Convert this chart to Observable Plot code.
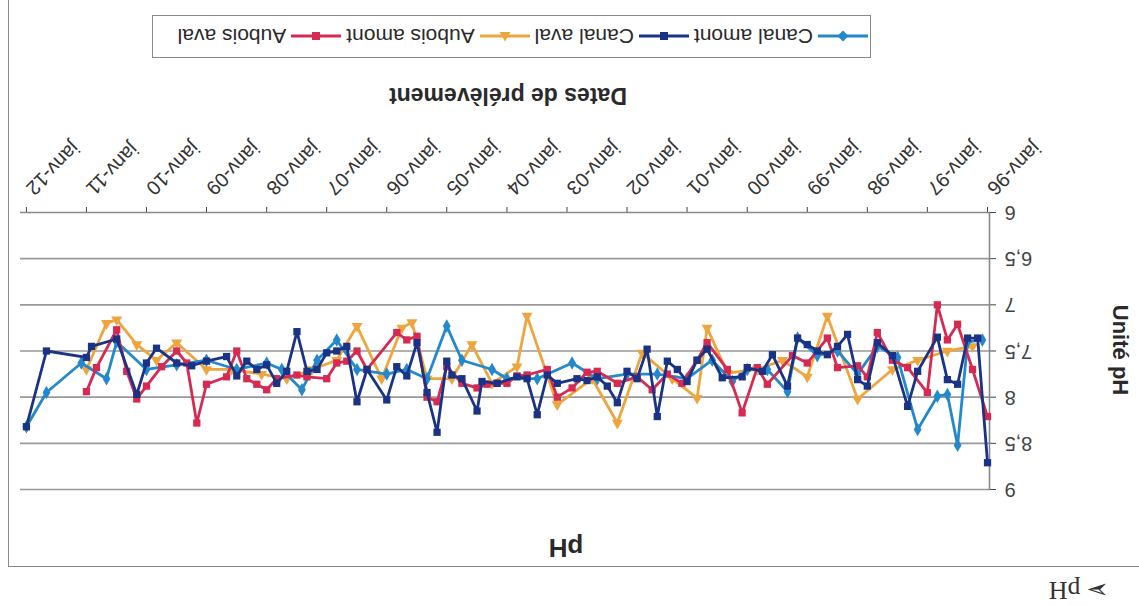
<!DOCTYPE html>
<html>
<head>
<meta charset="utf-8">
<script src="https://cdn.jsdelivr.net/npm/d3@7"></script>
<script src="https://cdn.jsdelivr.net/npm/@observablehq/plot@0.6"></script>
<style>
html,body{margin:0;padding:0;background:#fff;overflow:hidden;}
#page{position:relative;width:1139px;height:606px;transform:rotate(180deg);transform-origin:50% 50%;
  font-family:"Liberation Sans",Arial,sans-serif;color:#2a2a2a;background:#fff;overflow:hidden;}
#frame{position:absolute;left:-10px;top:39px;width:1141px;height:620px;border:1.5px solid #8a8a8a;box-sizing:border-box;}
#heading{position:absolute;left:30px;top:3px;height:26px;white-space:nowrap;color:#333;display:flex;align-items:center;}
#heading .arr{font-family:"DejaVu Sans";font-size:27px;display:inline-block;height:24px;line-height:24px;margin-right:6px;}
#heading .ph{font-family:"Liberation Serif",serif;font-size:26px;display:inline-block;height:26px;line-height:26px;}
#title{position:absolute;left:473px;width:200px;top:43px;text-align:center;font-weight:bold;font-size:26px;}
#chart{position:absolute;left:0;top:0;}
#ylabel{position:absolute;left:19px;top:256px;transform:translate(-50%,-50%) rotate(-90deg);font-weight:bold;font-size:22px;white-space:nowrap;}
#xlabel{position:absolute;left:631px;top:511px;transform:translate(-50%,-50%);font-weight:bold;font-size:23px;white-space:nowrap;}
#legend{position:absolute;left:268px;top:548px;width:719px;height:43px;border:1.5px solid #8a8a8a;box-sizing:border-box;
  display:flex;align-items:center;padding-left:2px;font-size:21px;white-space:nowrap;}
#legend .item{display:flex;align-items:center;margin-right:5px;}
#legend .item svg{margin-right:5px;}
</style>
</head>
<body>
<div id="page">
  <div id="frame"></div>
  <div id="heading"><span class="arr">➢</span><span class="ph">pH</span></div>
  <div id="title">pH</div>
  <div id="chart"></div>
  <div id="ylabel">Unité pH</div>
  <div id="xlabel">Dates de prélèvement</div>
  <div id="legend"></div>
</div>
<script>
// ---- data ----
const yTicks = [6, 6.5, 7, 7.5, 8, 8.5, 9];
const yTickLabels = ["6", "6,5", "7", "7,5", "8", "8,5", "9"];
const gridValues = [6.5, 7, 7.5, 8, 8.5, 9];
const tickYears = [1996,1997,1998,1999,2000,2001,2002,2003,2004,2005,2006,2007,2008,2009,2010,2011,2012];
const tickLabels = ["janv-96","janv-97","janv-98","janv-99","janv-00","janv-01","janv-02","janv-03","janv-04","janv-05","janv-06","janv-07","janv-08","janv-09","janv-10","janv-11","janv-12"];

const seriesNames = ["Canal amont", "Canal aval", "Aubois amont", "Aubois aval"];
const seriesColors = ["#2388cc", "#1a3385", "#eea53e", "#d62a52"];
const seriesSymbols = ["diamond", "square", "triangle", "square"];

const canalAmontDates = ["1996-02","1996-05","1996-07","1996-09","1996-11","1997-03","1997-07","1997-11","1998-03","1998-07","1998-11","1999-03","1999-05","1999-09","2000-01","2000-04","2000-08","2001-01","2001-07","2002-01","2002-07","2002-12","2003-07","2004-01","2004-04","2004-10","2005-01","2005-05","2005-09","2006-01","2006-07","2006-11","2007-03","2007-06","2007-10","2008-01","2008-07","2009-01","2009-07","2010-01","2010-07","2010-09","2011-02","2011-09","2012-01"];
const canalAmontPH = [7.38,7.40,8.52,7.97,7.99,8.35,7.57,7.45,7.75,7.50,7.55,7.36,7.94,7.70,7.70,7.83,7.60,7.80,7.75,7.75,7.80,7.63,7.80,7.80,7.70,7.60,7.23,7.80,7.70,7.75,7.70,7.38,7.60,7.92,7.70,7.63,7.70,7.60,7.65,7.70,7.40,7.80,7.63,7.95,8.32];

const canalAvalDates = ["1996-01","1996-03","1996-05","1996-07","1996-09","1996-11","1997-03","1997-05","1997-08","1997-11","1998-01","1998-03","1998-05","1998-07","1998-09","1998-11","1999-01","1999-03","1999-05","1999-08","1999-10","2000-01","2000-02","2000-06","2000-09","2000-11","2001-01","2001-03","2001-05","2001-07","2001-09","2001-11","2002-01","2002-03","2002-05","2002-07","2002-09","2002-11","2003-03","2003-05","2003-07","2003-09","2003-11","2004-03","2004-06","2004-07","2004-10","2004-12","2005-01","2005-03","2005-05","2005-07","2005-09","2005-11","2006-01","2006-05","2006-07","2006-09","2006-11","2007-01","2007-03","2007-05","2007-07","2007-09","2007-11","2008-01","2008-03","2008-05","2008-07","2008-09","2009-01","2009-04","2009-07","2009-11","2010-01","2010-03","2010-07","2010-12","2011-01","2011-09","2012-01"];
const canalAvalPH = [8.71,7.36,7.36,7.86,7.81,7.35,7.72,8.10,7.55,7.41,7.88,7.81,7.32,7.45,7.54,7.50,7.43,7.36,7.88,7.54,7.72,7.68,7.78,7.79,7.48,7.60,7.83,7.70,7.61,8.21,7.48,7.80,7.72,8.06,7.88,7.78,7.82,7.80,7.85,7.76,8.19,7.80,7.78,7.85,7.83,8.15,7.80,7.76,7.61,8.38,7.95,7.41,7.77,7.67,8.03,7.70,8.05,7.45,7.50,7.52,7.70,7.72,7.29,7.72,7.85,7.65,7.70,7.61,7.77,7.56,7.61,7.66,7.63,7.47,7.63,7.97,7.37,7.45,7.57,7.50,8.32];

const auboisAmontDates = ["1996-04","1996-09","1997-03","1997-08","1998-03","1998-09","1999-01","1999-06","1999-11","2000-05","2000-09","2000-11","2001-04","2001-10","2002-03","2002-08","2003-03","2003-09","2003-11","2004-04","2004-08","2004-12","2005-05","2005-08","2005-10","2006-02","2006-07","2006-11","2007-04","2007-09","2008-02","2008-08","2009-01","2009-07","2009-11","2010-03","2010-07","2010-09","2011-01"];
const auboisAmontPH = [7.45,7.50,7.60,7.70,8.02,7.12,7.78,7.60,7.70,7.74,7.25,8.01,7.80,7.52,8.28,7.80,8.08,7.12,7.67,7.85,7.43,7.80,7.80,7.19,7.25,7.80,7.23,7.60,7.70,7.80,7.75,7.70,7.70,7.41,7.60,7.43,7.16,7.20,7.70];

const auboisAvalDates = ["1996-01","1996-04","1996-07","1996-09","1996-11","1997-01","1997-05","1997-08","1997-11","1998-01","1998-03","1998-07","1998-09","1999-01","1999-04","1999-09","1999-11","2000-02","2000-05","2000-09","2000-11","2001-02","2001-05","2001-08","2001-11","2002-03","2002-07","2002-09","2002-12","2003-03","2003-05","2003-09","2003-11","2004-01","2004-03","2004-05","2004-07","2004-10","2005-01","2005-03","2005-05","2005-07","2005-09","2005-11","2006-05","2006-07","2006-09","2006-11","2007-01","2007-05","2007-07","2007-11","2008-01","2008-03","2008-05","2008-07","2008-09","2009-01","2009-03","2009-05","2009-07","2009-10","2010-01","2010-03","2010-05","2010-07","2010-11","2011-01"];
const auboisAvalPH = [8.21,7.70,7.21,7.38,7.00,7.95,7.68,7.60,7.30,7.78,7.66,7.68,7.36,7.63,7.55,7.86,7.68,8.17,7.70,7.41,7.60,7.85,7.75,7.92,7.78,7.85,7.72,7.73,7.90,8.00,7.70,7.76,7.77,7.85,7.85,7.86,7.90,7.85,7.67,8.05,8.00,7.34,7.38,7.30,7.70,7.50,7.61,7.63,7.80,7.78,7.76,7.80,7.92,7.86,7.80,7.50,7.78,7.86,8.28,7.63,7.50,7.67,7.88,8.02,7.72,7.27,7.68,7.94];

// ---- build ----
const parse = d3.utcParse("%Y-%m");
const rows = (dates, values) => dates.map((d, i) => ({date: parse(d), ph: values[i]}));
const seriesData = [
  rows(canalAmontDates, canalAmontPH),
  rows(canalAvalDates, canalAvalPH),
  rows(auboisAmontDates, auboisAmontPH),
  rows(auboisAvalDates, auboisAvalPH)
];
const drawOrder = [2, 0, 3, 1];
const xStart = new Date(Date.UTC(1995, 11, 20));
const xEnd = new Date(Date.UTC(2012, 1, 12));
const tickDates = tickYears.map(y => new Date(Date.UTC(y, 0, 1)));

const marks = [
  Plot.ruleY(gridValues, {stroke: "#999", strokeWidth: 1.6}),
  Plot.ruleY([6], {stroke: "#888", strokeWidth: 1.6}),
  Plot.ruleX([xStart], {stroke: "#888", strokeWidth: 1.6}),
  Plot.text(tickDates, {x: d => d, frameAnchor: "bottom", text: tickLabels, rotate: -45,
    textAnchor: "end", lineAnchor: "middle", dx: -3, dy: 21, fontSize: 20, fill: "#333"})
];
for (const k of drawOrder) {
  marks.push(Plot.line(seriesData[k], {x: "date", y: "ph", stroke: seriesColors[k], strokeWidth: 2.8}));
  marks.push(Plot.dot(seriesData[k], {x: "date", y: "ph", symbol: seriesSymbols[k], fill: seriesColors[k], r: 4.1}));
}

const chart = Plot.plot({
  width: 1139, height: 606,
  marginLeft: 149, marginRight: 20, marginTop: 116, marginBottom: 213,
  style: {fontFamily: "Liberation Sans, Arial, sans-serif", fontSize: "20px", color: "#444", background: "transparent"},
  x: {type: "utc", domain: [xStart, xEnd], ticks: tickDates, tickFormat: () => "", tickSize: 6, label: null},
  y: {domain: [6, 9], ticks: yTicks, tickFormat: d => yTickLabels[yTicks.indexOf(d)], tickSize: 6, tickPadding: 9, label: null},
  marks
});
document.getElementById("chart").appendChild(chart);

// legend
const legend = document.getElementById("legend");
const symPath = {
  diamond: "M25 4.5 L30.5 10 L25 15.5 L19.5 10Z",
  square: "M21 6 H29 V14 H21Z",
  triangle: "M25 4.5 L30.5 14 L19.5 14Z"
};
seriesNames.forEach((name, i) => {
  const item = document.createElement("div");
  item.className = "item";
  item.innerHTML = `<svg width="50" height="20"><line x1="0" y1="10" x2="50" y2="10" stroke="${seriesColors[i]}" stroke-width="2.8"/><path d="${symPath[seriesSymbols[i]]}" fill="${seriesColors[i]}"/></svg>`;
  const span = document.createElement("span");
  span.textContent = name;
  item.appendChild(span);
  legend.appendChild(item);
});
</script>
</body>
</html>
